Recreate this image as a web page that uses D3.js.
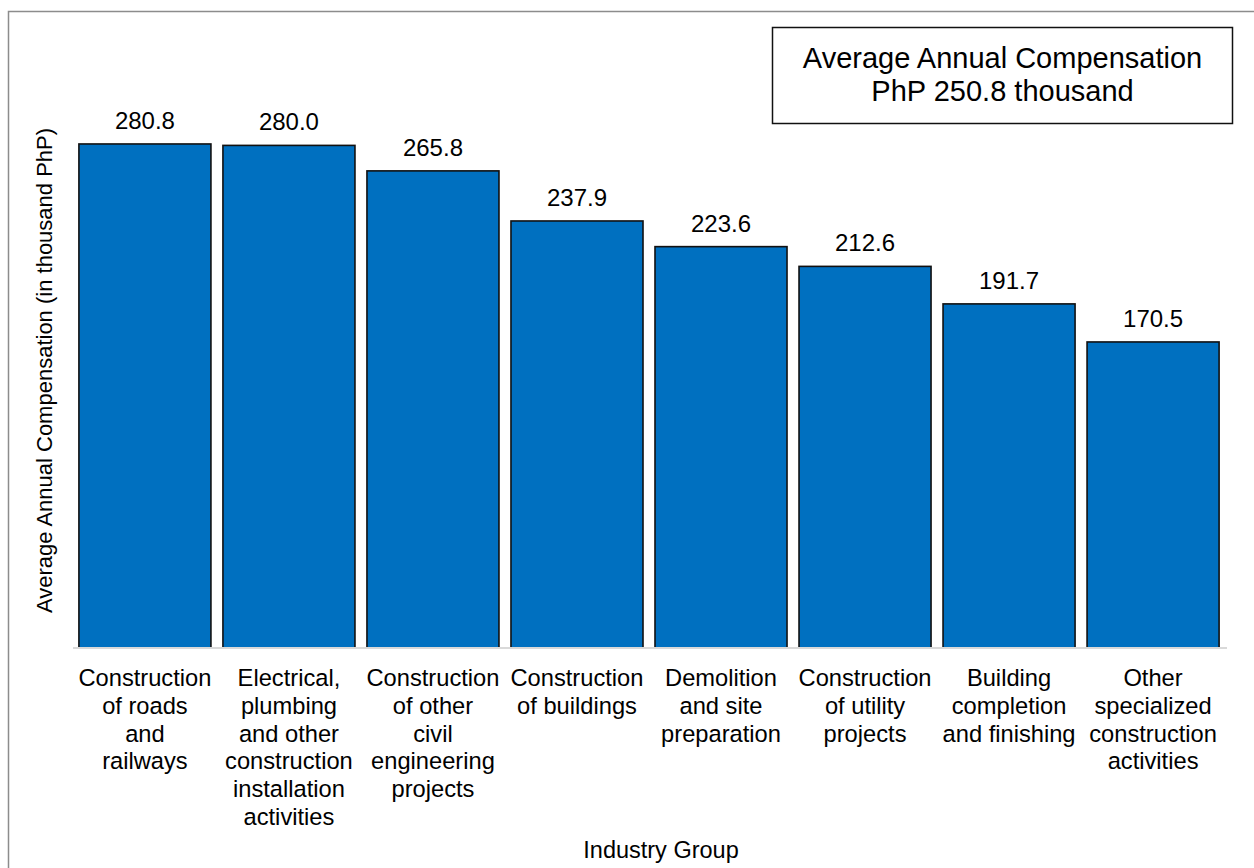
<!DOCTYPE html>
<html>
<head>
<meta charset="utf-8">
<script src="https://cdn.jsdelivr.net/npm/d3@7"></script>
<style>
  html, body { margin: 0; padding: 0; background: #fff; }
  svg { display: block; font-family: "Liberation Sans", Arial, sans-serif; }
</style>
</head>
<body>
<svg id="chart" width="1254" height="868"></svg>
<script>
// ---- data ----
const categories = [
  "Construction of roads and railways",
  "Electrical, plumbing and other construction installation activities",
  "Construction of other civil engineering projects",
  "Construction of buildings",
  "Demolition and site preparation",
  "Construction of utility projects",
  "Building completion and finishing",
  "Other specialized construction activities"
];
const categoryLines = [
  ["Construction", "of roads", "and", "railways"],
  ["Electrical,", "plumbing", "and other", "construction", "installation", "activities"],
  ["Construction", "of other", "civil", "engineering", "projects"],
  ["Construction", "of buildings"],
  ["Demolition", "and site", "preparation"],
  ["Construction", "of utility", "projects"],
  ["Building", "completion", "and finishing"],
  ["Other", "specialized", "construction", "activities"]
];
const values = [280.8, 280.0, 265.8, 237.9, 223.6, 212.6, 191.7, 170.5];
const legendLines = ["Average Annual Compensation", "PhP 250.8 thousand"];
const xTitle = "Industry Group";
const yTitle = "Average Annual Compensation (in thousand PhP)";

// ---- layout ----
const svg = d3.select("#chart");
const baseY = 648;

const x = d3.scaleBand()
  .domain(categories)
  .range([72, 1226])
  .paddingInner(0.0833)
  .paddingOuter(0.048);

const y = d3.scaleLinear()
  .domain([0, 300])
  .range([baseY, baseY - 538.5]);

// outer border
svg.append("rect")
  .attr("x", 8.5).attr("y", 11.5)
  .attr("width", 1300).attr("height", 900)
  .attr("fill", "none")
  .attr("stroke", "#8c8c8c")
  .attr("stroke-width", 1.5);

// bars
svg.append("g").selectAll("rect")
  .data(values)
  .join("rect")
  .attr("x", (d, i) => x(categories[i]))
  .attr("y", d => y(d))
  .attr("width", x.bandwidth())
  .attr("height", d => y(0) - y(d))
  .attr("fill", "#0070C0")
  .attr("stroke", "#111")
  .attr("stroke-width", 1.6);

// axis line (category axis)
const xAxis = d3.axisBottom(x).tickSize(0).tickFormat("");
const gx = svg.append("g").attr("transform", `translate(0,${baseY})`).call(xAxis);
gx.select(".domain").attr("stroke", "#d9d9d9").attr("stroke-width", 2)
  .attr("d", `M73,0H1227`);

// value labels
svg.append("g").selectAll("text")
  .data(values)
  .join("text")
  .attr("x", (d, i) => x(categories[i]) + x.bandwidth() / 2)
  .attr("y", d => y(d) - 15)
  .attr("text-anchor", "middle")
  .attr("font-size", 24)
  .attr("fill", "#000")
  .text(d => d.toFixed(1));

// category labels
const catG = svg.append("g");
categoryLines.forEach((lines, i) => {
  const t = catG.append("text")
    .attr("x", x(categories[i]) + x.bandwidth() / 2)
    .attr("y", 686)
    .attr("text-anchor", "middle")
    .attr("font-size", 23.7)
    .attr("fill", "#000");
  lines.forEach((ln, j) => {
    t.append("tspan")
      .attr("x", x(categories[i]) + x.bandwidth() / 2)
      .attr("y", 686 + j * 27.8)
      .text(ln);
  });
});

// x axis title
svg.append("text")
  .attr("x", 661).attr("y", 858)
  .attr("text-anchor", "middle")
  .attr("font-size", 23.5)
  .text(xTitle);

// y axis title
svg.append("text")
  .attr("transform", "translate(52,370.5) rotate(-90)")
  .attr("text-anchor", "middle")
  .attr("font-size", 22)
  .text(yTitle);

// legend box
svg.append("rect")
  .attr("x", 772.5).attr("y", 27.5)
  .attr("width", 460).attr("height", 96)
  .attr("fill", "#fff")
  .attr("stroke", "#111")
  .attr("stroke-width", 1.5);
svg.append("g").selectAll("text")
  .data(legendLines)
  .join("text")
  .attr("x", 1002.5)
  .attr("y", (d, i) => 68 + i * 32.5)
  .attr("text-anchor", "middle")
  .attr("font-size", 29)
  .text(d => d);
</script>
</body>
</html>
